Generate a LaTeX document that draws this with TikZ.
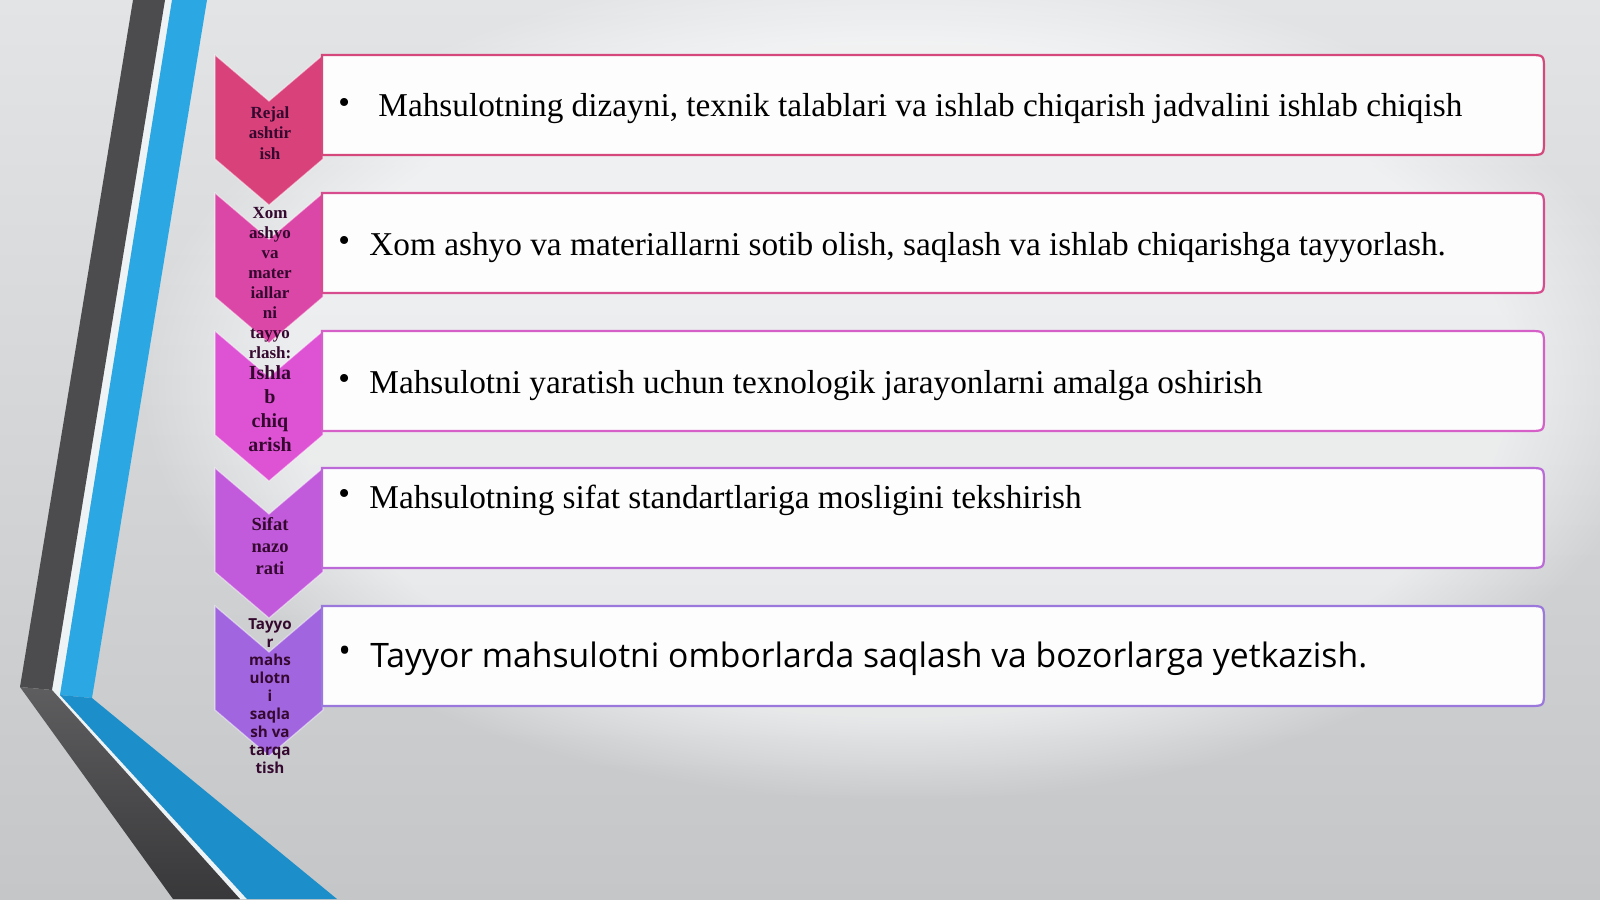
\documentclass[tikz,border=0pt]{standalone}
\usepackage{fontspec}
\setmainfont{Liberation Serif}
\newfontfamily\opensans{Open Sans}
\usetikzlibrary{fadings}
\definecolor{ch1}{HTML}{D8417A}
\definecolor{ch2}{HTML}{DB47A6}
\definecolor{ch3}{HTML}{DE52D4}
\definecolor{ch4}{HTML}{C15BDB}
\definecolor{ch5}{HTML}{A065DF}
\definecolor{bd1}{HTML}{D4487C}
\definecolor{bd2}{HTML}{D64C8E}
\definecolor{bd3}{HTML}{D460C8}
\definecolor{bd4}{HTML}{BB6AD8}
\definecolor{bd5}{HTML}{9B78DC}
\definecolor{chtext}{HTML}{35092F}
\definecolor{darkband}{HTML}{4C4C4E}
\definecolor{darkbandlow}{HTML}{38383A}
\definecolor{blueband}{HTML}{2BA8E4}
\definecolor{bluebandlow}{HTML}{1C8FCB}
\definecolor{gapband}{HTML}{EEF3F6}
\definecolor{bgtop}{HTML}{E2E4E6}
\definecolor{bgbot}{HTML}{C4C6C8}
\definecolor{boxfill}{HTML}{FEFDFE}
\newcommand\bul[1]{\makebox[#1][l]{\raisebox{0.12em}{•}}}
\begin{document}
\begin{tikzpicture}[x=0.5pt,y={(0pt,-0.5pt)},
  chevtext/.style={align=center,inner sep=0pt,text=chtext,font=\bfseries},
  itemtext/.style={anchor=base west,inner sep=0pt,text=black,font=\fontsize{16.65}{20}\selectfont},
  boxline/.style={line width=1.1pt,fill=boxfill}]
\useasboundingbox (0,0) rectangle (1600,899);
% background
\shade[top color=bgtop,bottom color=bgbot] (0,0) rectangle (1600,899);
\fill[white,opacity=0.55,path fading=circle with fuzzy edge 20 percent] (900,380) ellipse [x radius=760,y radius=420];
% left decoration
\fill[gapband] (165,0) -- (172,0) -- (60,695) -- (247,899) -- (240,899) -- (52,690) -- cycle;
\fill[darkband] (133,0) -- (165,0) -- (52,690) -- (20,687) -- cycle;
\shade[top color=darkband!90!white,bottom color=darkbandlow] (20,687) -- (52,690) -- (240,899) -- (173,899) -- cycle;
\fill[blueband] (172,0) -- (207,0) -- (92,698) -- (60,695) -- cycle;
\fill[bluebandlow] (60,695) -- (92,698) -- (337,899) -- (247,899) -- cycle;
% chevrons
\foreach \T/\c in {55/ch1,193/ch2,331/ch3,468/ch4,606/ch5}{
  \filldraw[fill=\c,draw=white,draw opacity=0.5,line width=0.6pt]
    (215,\T) -- (269,{\T+46}) -- (323,\T) -- (323,{\T+104}) -- (269,{\T+150}) -- (215,{\T+104}) -- cycle;
}
% boxes
\foreach \T/\c in {55/bd1,193/bd2,331/bd3,468/bd4,606/bd5}{
  \draw[boxline,draw=\c] (322,\T) -- (1529,\T) .. controls (1544,\T) .. (1544,{\T+15})
    -- (1544,{\T+85}) .. controls (1544,{\T+100}) .. (1529,{\T+100}) -- (322,{\T+100}) -- cycle;
}
% chevron texts
\node[chevtext,font=\bfseries\fontsize{8.5}{10.25}\selectfont] (c1) at (270,133) {Rejal\\ashtir\\ish};
\node[chevtext,font=\bfseries\fontsize{8.5}{10}\selectfont] (c2) at (270,283) {Xom\\ashyo\\va\\mater\\iallar\\ni\\tayyo\\rlash:};
\node[chevtext,font=\bfseries\fontsize{10}{12}\selectfont] (c3) at (270,409) {Ishla\\b\\chiq\\arish};
\node[chevtext,font=\bfseries\fontsize{9.25}{11}\selectfont] (c4) at (270,546) {Sifat\\nazo\\rati};
\node[chevtext,font=\opensans\bfseries\fontsize{7.6}{9}\selectfont] (c5) at (270,696) {Tayyo\\r\\mahs\\ulotn\\i\\saqla\\sh va\\tarqa\\tish};
% box texts
\node[itemtext] (t1) at (338,117) {\bul{20pt}Mahsulotning dizayni, texnik talablari va ishlab chiqarish jadvalini ishlab chiqish};
\node[itemtext] (t2) at (338,255) {\bul{15.5pt}Xom ashyo va materiallarni sotib olish, saqlash va ishlab chiqarishga tayyorlash.};
\node[itemtext] (t3) at (338,393) {\bul{15.5pt}Mahsulotni yaratish uchun texnologik jarayonlarni amalga oshirish};
\node[itemtext] (t4) at (338,508) {\bul{15.5pt}Mahsulotning sifat standartlariga mosligini tekshirish};
\node[itemtext,font=\opensans\fontsize{16.85}{20}\selectfont] (t5) at (338,667) {\bul{16pt}Tayyor mahsulotni omborlarda saqlash va bozorlarga yetkazish.};
\end{tikzpicture}
\end{document}
